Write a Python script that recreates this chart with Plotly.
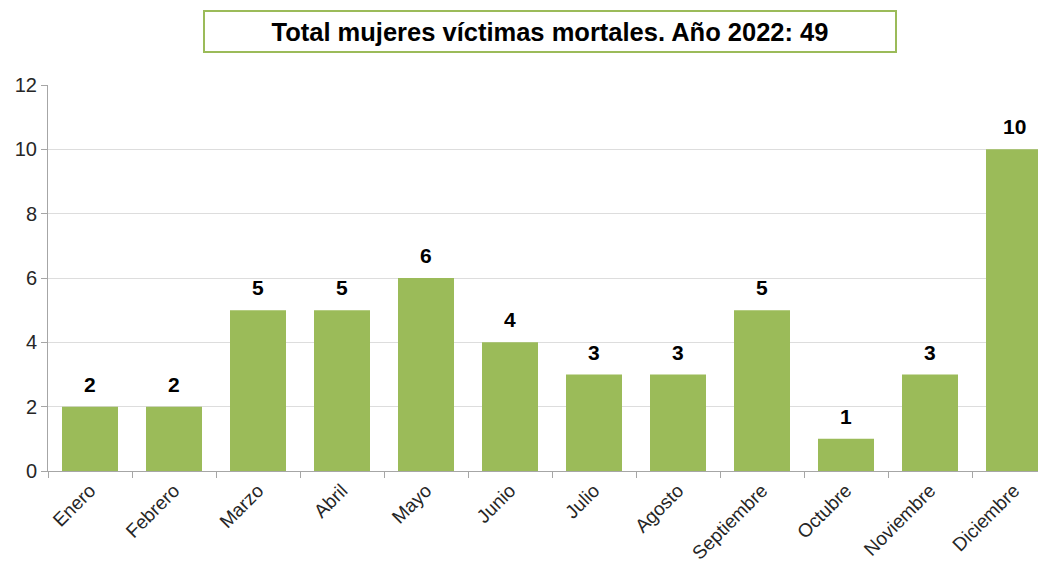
import plotly.graph_objects as go

meses = ["Enero", "Febrero", "Marzo", "Abril", "Mayo", "Junio", "Julio",
         "Agosto", "Septiembre", "Octubre", "Noviembre", "Diciembre"]
victimas = [2, 2, 5, 5, 6, 4, 3, 3, 5, 1, 3, 10]
titulo = "Total mujeres víctimas mortales. Año 2022: 49"

# page offset of the default body margin (8px) is compensated here
OFF = 8
W, H = 1046 - OFF, 568 - OFF
ML, MR, MT, MB = 48 - OFF, 0, 85 - OFF, 97
plot_w = W - ML - MR
plot_h = H - MT - MB
px_per_cat = 84
FONT = "Liberation Sans, Arial, sans-serif"

fig = go.Figure(go.Bar(
    x=meses, y=victimas,
    marker=dict(color="#9BBB59", line=dict(width=0)),
    width=56 / px_per_cat,
    hoverinfo="x+y",
))

annotations = [dict(
    x=m, y=v, xref="x", yref="y",
    text="<b>%d</b>" % v,
    showarrow=False, xanchor="center", yanchor="bottom", yshift=9,
    font=dict(family=FONT, size=21, color="#000000"),
) for m, v in zip(meses, victimas)]

annotations.append(dict(
    text="<b>" + titulo + "</b>",
    xref="paper", yref="paper",
    x=(550 - OFF - ML) / plot_w, y=(H - MB - (32 - OFF)) / plot_h,
    xanchor="center", yanchor="middle",
    showarrow=False,
    width=686, height=35,
    bordercolor="#9BBB59", borderwidth=2, borderpad=2,
    bgcolor="white",
    font=dict(family=FONT, size=25.5, color="#000000"),
))

fig.update_layout(
    width=W, height=H,
    margin=dict(l=ML, r=MR, t=MT, b=MB),
    paper_bgcolor="white", plot_bgcolor="white",
    showlegend=False,
    font=dict(family=FONT),
    xaxis=dict(
        type="category",
        automargin=False,
        range=[-0.5, -0.5 + plot_w / px_per_cat],
        tickangle=-45,
        tickson="boundaries",
        ticks="outside", ticklen=6, tickcolor="#A6A6A6",
        showline=True, linecolor="#A6A6A6", linewidth=1,
        showgrid=False,
        tickfont=dict(size=19, color="#262626", family=FONT),
    ),
    yaxis=dict(
        automargin=False,
        range=[0, 12], dtick=2,
        ticks="outside", ticklen=6, tickcolor="#A6A6A6",
        showline=True, linecolor="#A6A6A6", linewidth=1,
        showgrid=True, gridcolor="#DDDDDD", gridwidth=1,
        zeroline=False,
        tickfont=dict(size=20, color="#262626", family=FONT),
    ),
    annotations=annotations,
)

fig.write_html("out.html")
